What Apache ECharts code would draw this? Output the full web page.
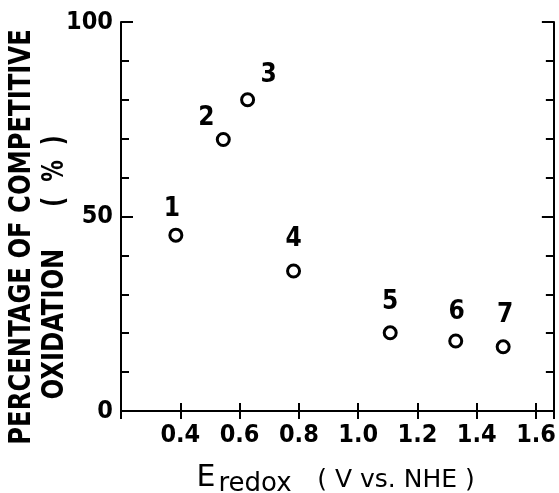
<!DOCTYPE html>
<html>
<head>
<meta charset="utf-8">
<script src="https://cdn.jsdelivr.net/npm/echarts@6/dist/echarts.min.js"></script>
<style>
  html, body { margin: 0; padding: 0; background: #fff; }
  #chart { width: 559px; height: 493px; }
</style>
</head>
<body>
<div id="chart"></div>
<script>
// data
var pointNames = ['1', '2', '3', '4', '5', '6', '7'];
var eRedox = [0.385, 0.545, 0.627, 0.782, 1.108, 1.329, 1.489];
var oxidation = [45.2, 69.8, 80.0, 36.0, 20.1, 18.0, 16.5];
var xTickLabels = ['0.4', '0.6', '0.8', '1.0', '1.2', '1.4', '1.6'];
var yTickLabels = ['0', '50', '100'];

// where each number sits relative to its circle
var labelOffsets = [[-4, -26], [-17, -21], [21, -25], [0, -32], [0, -31], [1, -29], [2, -32]];

var myChart = echarts.init(document.getElementById('chart'));

var tickFont = '"Liberation Sans Narrow", "DejaVu Sans Condensed", sans-serif';
var titleFont = '"Liberation Sans Narrow", "DejaVu Sans Condensed", sans-serif';
var nameFont = '"DejaVu Sans", sans-serif';

var seriesData = [];
for (var i = 0; i < pointNames.length; i++) {
    seriesData.push({
        name: pointNames[i],
        value: [eRedox[i], oxidation[i]],
        label: { offset: labelOffsets[i] }
    });
}

var lineStyle = { color: '#000', width: 2 };

function vText(txt, x, y, sx) {
    return {
        type: 'text', x: x, y: y, rotation: Math.PI / 2, scaleX: sx,
        style: { text: txt, x: 0, y: 0, textAlign: 'center', textVerticalAlign: 'middle',
                 font: 'bold 30px ' + titleFont, fill: '#000' }
    };
}

function hText(txt, x, y, size) {
    return {
        type: 'text', x: x, y: y,
        style: { text: txt, x: 0, y: 0, textAlign: 'center', textVerticalAlign: 'middle',
                 font: size + 'px ' + nameFont, fill: '#000' }
    };
}

var option = {
    animation: false,
    backgroundColor: '#fff',
    grid: { left: 121, right: 4, top: 22, bottom: 82 },
    xAxis: [{
        type: 'value',
        min: 0.2,
        max: 1.66,
        interval: 0.2,
        axisLine: { lineStyle: lineStyle },
        axisTick: { inside: true, length: 8, lineStyle: lineStyle },
        splitLine: { show: false },
        axisLabel: {
            margin: 12,
            color: '#000',
            fontFamily: tickFont,
            fontWeight: 'bold',
            fontSize: 25,
            showMinLabel: true,
            showMaxLabel: true,
            formatter: function (v) {
                var s = v.toFixed(1);
                return xTickLabels.indexOf(s) >= 0 && Math.abs(v - parseFloat(s)) < 1e-6 ? s : '';
            }
        }
    }, {
        type: 'value',
        position: 'top',
        min: 0.2,
        max: 1.66,
        interval: 0.2,
        axisLine: { lineStyle: lineStyle },
        axisTick: { inside: true, length: 8, lineStyle: lineStyle },
        splitLine: { show: false },
        axisLabel: { show: false }
    }],
    yAxis: [{
        type: 'value',
        min: 0,
        max: 100,
        interval: 50,
        axisLine: { show: true, lineStyle: lineStyle },
        axisTick: { show: true, inside: true, length: 12, lineStyle: lineStyle },
        minorTick: { show: true, splitNumber: 5, length: 8, lineStyle: lineStyle },
        splitLine: { show: false },
        axisLabel: {
            margin: 8,
            color: '#000',
            fontFamily: tickFont,
            fontWeight: 'bold',
            fontSize: 25,
            formatter: function (v) {
                var s = String(Math.round(v));
                return yTickLabels.indexOf(s) >= 0 ? s : '';
            }
        }
    }, {
        type: 'value',
        position: 'right',
        min: 0,
        max: 100,
        interval: 50,
        axisLine: { show: true, lineStyle: lineStyle },
        axisTick: { show: true, inside: true, length: 12, lineStyle: lineStyle },
        minorTick: { show: true, splitNumber: 5, length: 8, lineStyle: lineStyle },
        splitLine: { show: false },
        axisLabel: { show: false }
    }],
    graphic: [
        vText('PERCENTAGE OF COMPETITIVE', 22, 237, 0.9),
        vText('OXIDATION', 55, 324, 0.9),
        vText('(  %  )', 55, 171, 0.8),
        hText('E', 206, 478, 30),
        hText('redox', 255, 484, 26),
        hText('( V vs. NHE )', 396, 480, 25)
    ],
    series: [{
        type: 'scatter',
        xAxisIndex: 0,
        yAxisIndex: 0,
        symbol: 'circle',
        symbolSize: 12,
        itemStyle: { color: '#fff', borderColor: '#000', borderWidth: 3, opacity: 1 },
        label: {
            show: true,
            position: 'inside',
            color: '#000',
            fontFamily: tickFont,
            fontWeight: 'bold',
            fontSize: 26,
            formatter: '{b}'
        },
        data: seriesData
    }]
};

myChart.setOption(option);
</script>
</body>
</html>
